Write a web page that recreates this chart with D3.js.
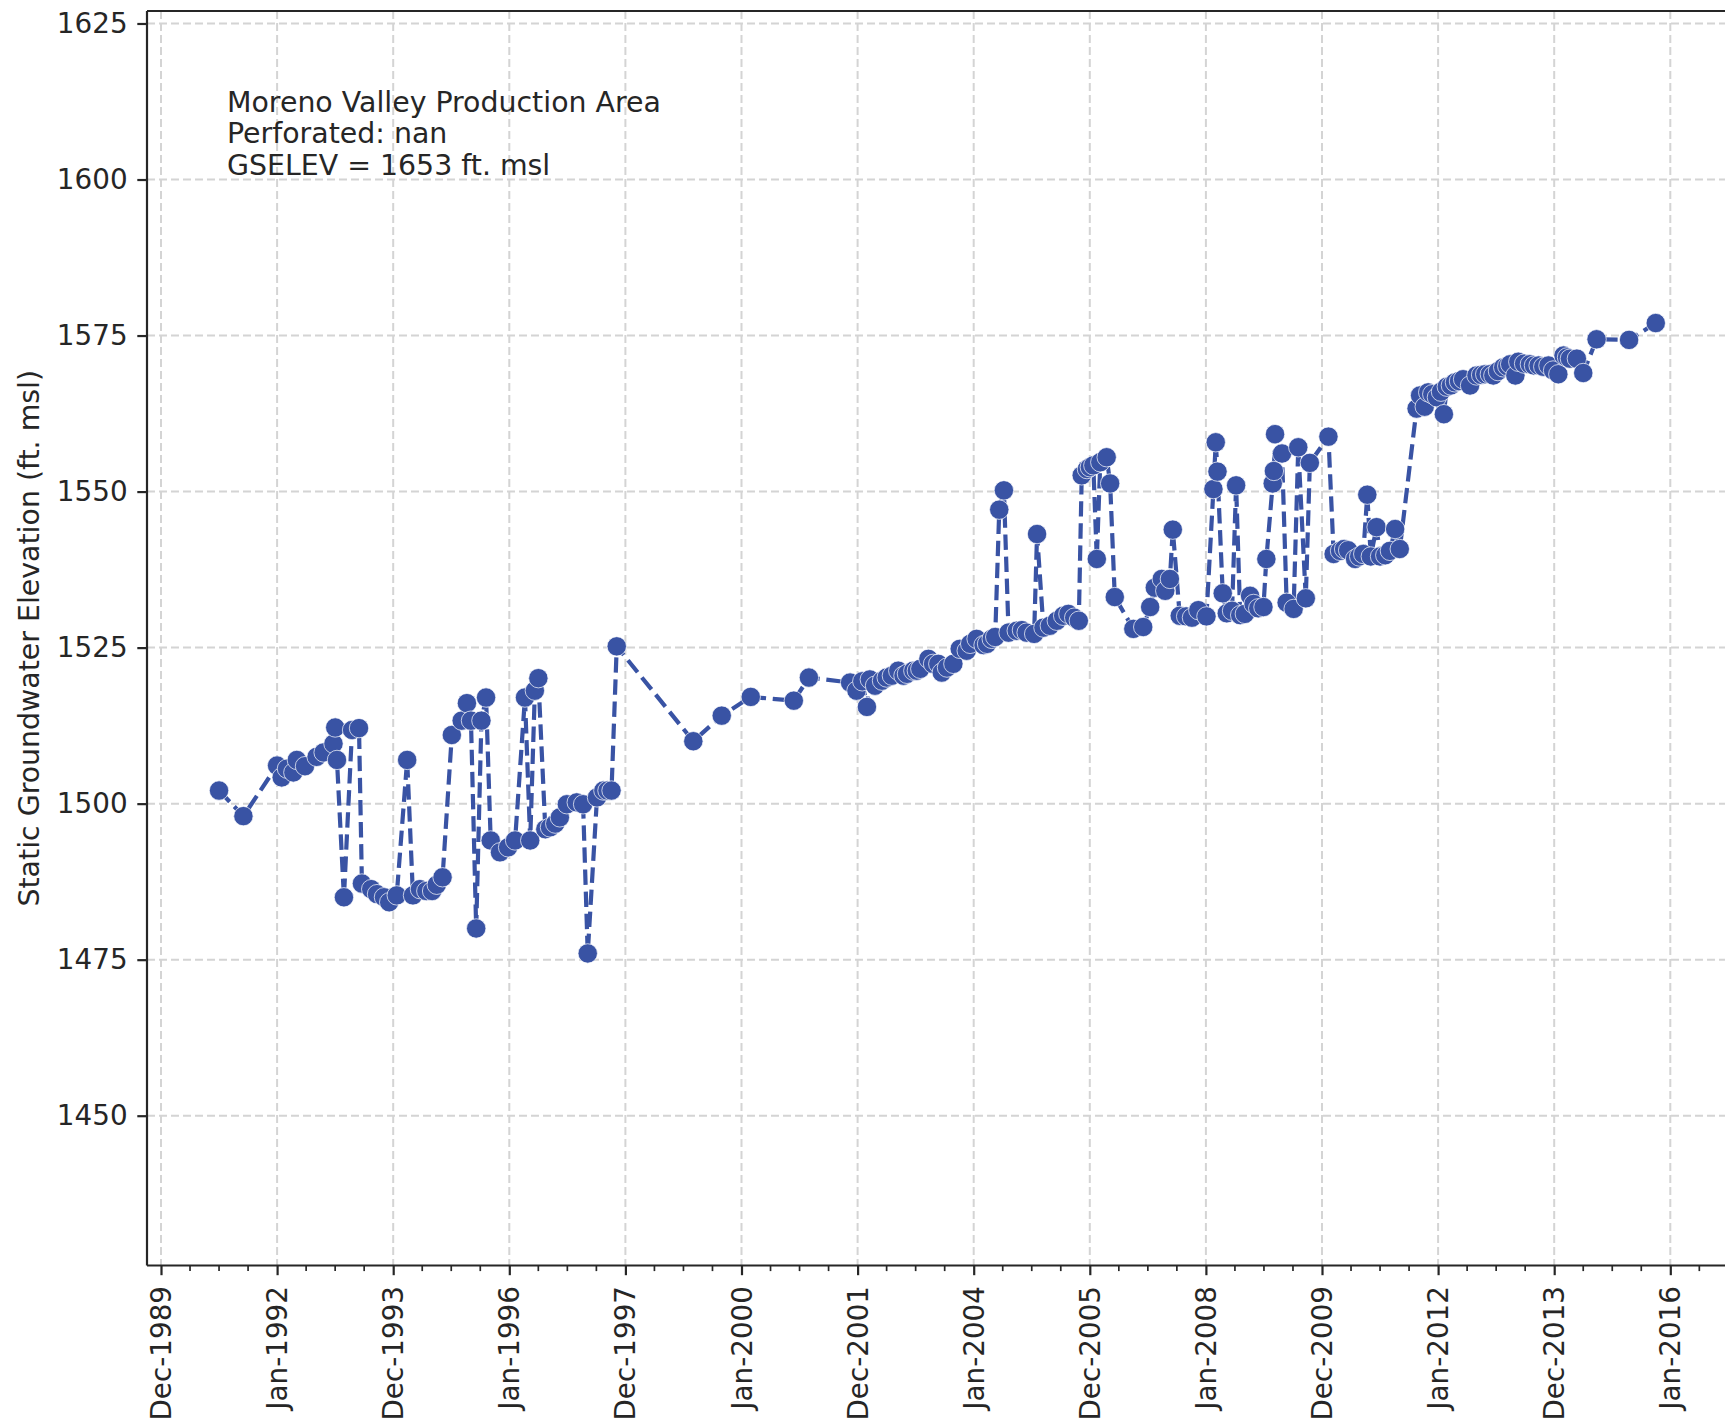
<!DOCTYPE html>
<html>
<head>
<meta charset="utf-8">
<script src="https://d3js.org/d3.v7.min.js"></script>
<style>
body { margin: 0; background: #fff; }
text { font-family: "DejaVu Sans", sans-serif; fill: #262626; }
</style>
</head>
<body>
<div id="chart"></div>
<script>
// sample dates as decimal years
const decYears = [
1991.00, 1991.42, 1992.00, 1992.08, 1992.17, 1992.28, 1992.34, 1992.48, 1992.68, 1992.80,
1992.97, 1993.00, 1993.03, 1993.15, 1993.29, 1993.41, 1993.46, 1993.62, 1993.72, 1993.84,
1993.93, 1994.06, 1994.24, 1994.34, 1994.46, 1994.57, 1994.67, 1994.75, 1994.85, 1995.01,
1995.18, 1995.27, 1995.34, 1995.43, 1995.52, 1995.60, 1995.68, 1995.84, 1995.98, 1996.10,
1996.27, 1996.36, 1996.44, 1996.50, 1996.62, 1996.70, 1996.79, 1996.87, 1996.99, 1997.16,
1997.27, 1997.35, 1997.51, 1997.62, 1997.69, 1997.76, 1997.85, 1999.17, 1999.66, 2000.16,
2000.90, 2001.16, 2001.87, 2001.98, 2002.08, 2002.16, 2002.21, 2002.30, 2002.42, 2002.50,
2002.59, 2002.70, 2002.79, 2002.85, 2002.96, 2003.02, 2003.08, 2003.22, 2003.30, 2003.39,
2003.45, 2003.54, 2003.65, 2003.76, 2003.88, 2003.94, 2004.05, 2004.17, 2004.23, 2004.31,
2004.37, 2004.44, 2004.52, 2004.60, 2004.74, 2004.83, 2004.91, 2005.04, 2005.09, 2005.20,
2005.31, 2005.43, 2005.54, 2005.63, 2005.73, 2005.81, 2005.86, 2005.95, 2006.00, 2006.06,
2006.12, 2006.18, 2006.29, 2006.35, 2006.43, 2006.75, 2006.92, 2007.04, 2007.12, 2007.24,
2007.30, 2007.38, 2007.43, 2007.55, 2007.66, 2007.76, 2007.87, 2008.01, 2008.13, 2008.17,
2008.20, 2008.29, 2008.36, 2008.45, 2008.52, 2008.59, 2008.67, 2008.76, 2008.82, 2008.90,
2008.99, 2009.04, 2009.15, 2009.17, 2009.19, 2009.31, 2009.39, 2009.51, 2009.59, 2009.72,
2009.79, 2010.11, 2010.20, 2010.31, 2010.38, 2010.45, 2010.57, 2010.64, 2010.71, 2010.78,
2010.84, 2010.94, 2011.00, 2011.09, 2011.17, 2011.26, 2011.34, 2011.63, 2011.69, 2011.77,
2011.83, 2011.90, 2011.98, 2012.05, 2012.10, 2012.15, 2012.22, 2012.29, 2012.36, 2012.43,
2012.55, 2012.66, 2012.74, 2012.81, 2012.89, 2012.95, 2013.03, 2013.12, 2013.19, 2013.24,
2013.33, 2013.38, 2013.48, 2013.58, 2013.65, 2013.73, 2013.81, 2013.90, 2013.98, 2014.07,
2014.16, 2014.22, 2014.27, 2014.39, 2014.50, 2014.73, 2015.29, 2015.75
];

// static groundwater elevation, ft. msl
const elevations = [
1502.1, 1498.0, 1506.1, 1504.2, 1505.6, 1505.0, 1507.0, 1506.0, 1507.5, 1508.2,
1509.6, 1512.2, 1507.0, 1485.0, 1511.8, 1512.1, 1487.2, 1486.3, 1485.5, 1485.0,
1484.2, 1485.3, 1507.0, 1485.3, 1486.3, 1486.0, 1486.0, 1487.0, 1488.2, 1511.0,
1513.3, 1516.1, 1513.3, 1480.0, 1513.3, 1517.0, 1494.1, 1492.2, 1493.0, 1494.1,
1517.0, 1494.1, 1518.1, 1520.1, 1495.9, 1496.2, 1496.8, 1497.8, 1499.9, 1500.2,
1499.9, 1476.0, 1501.0, 1502.1, 1502.1, 1502.1, 1525.2, 1510.0, 1514.1, 1517.1,
1516.5, 1520.2, 1519.4, 1518.1, 1519.6, 1515.5, 1519.9, 1518.9, 1519.7, 1520.2,
1520.5, 1521.3, 1520.5, 1520.8, 1521.3, 1521.3, 1521.6, 1523.2, 1522.4, 1522.4,
1521.0, 1521.8, 1522.4, 1524.8, 1524.5, 1525.6, 1526.4, 1525.4, 1525.6, 1526.4,
1526.7, 1547.1, 1550.2, 1527.4, 1527.7, 1527.8, 1527.4, 1527.2, 1543.2, 1528.2,
1528.5, 1529.3, 1530.1, 1530.4, 1529.8, 1529.3, 1552.6, 1553.6, 1553.9, 1554.2,
1539.2, 1554.7, 1555.5, 1551.3, 1533.1, 1528.0, 1528.3, 1531.5, 1534.6, 1536.0,
1534.1, 1536.0, 1543.9, 1530.1, 1530.0, 1529.8, 1531.0, 1530.0, 1550.4, 1557.9,
1553.2, 1533.7, 1530.5, 1530.9, 1551.0, 1530.2, 1530.4, 1533.3, 1532.0, 1531.3,
1531.5, 1539.2, 1551.3, 1553.3, 1559.2, 1556.1, 1532.2, 1531.2, 1557.1, 1532.9,
1554.6, 1558.8, 1540.0, 1540.5, 1540.8, 1540.6, 1539.2, 1539.6, 1540.0, 1549.5,
1539.6, 1544.3, 1539.6, 1539.8, 1540.5, 1544.0, 1540.8, 1563.3, 1565.4, 1563.6,
1565.9, 1565.6, 1565.1, 1566.0, 1562.4, 1566.8, 1567.0, 1567.5, 1567.7, 1568.0,
1567.0, 1568.6, 1568.7, 1568.8, 1568.8, 1568.6, 1569.3, 1569.9, 1570.1, 1570.4,
1568.6, 1570.8, 1570.5, 1570.4, 1570.2, 1570.2, 1570.0, 1570.2, 1569.4, 1568.8,
1571.8, 1571.5, 1571.3, 1571.3, 1569.0, 1574.4, 1574.3, 1577.0
];

const annotationLines = [
  "Moreno Valley Production Area",
  "Perforated: nan",
  "GSELEV = 1653 ft. msl"
];
const yLabel = "Static Groundwater Elevation (ft. msl)";
const yTickValues = [1450, 1475, 1500, 1525, 1550, 1575, 1600, 1625];
// x ticks: every two years (730.5 days) from the last evening of 1989
const xTickStart = Date.UTC(1989, 11, 31, 18);
const xTickStepDays = 730.5;
const xTickCount = 14;
const xMinorPerMajor = 4;

const DAY = 86400000;
const width = 1725, height = 1424;
const axLeft = 147, axTop = 11, axBottom = 1265.5, axRight = width;
const blue = "#3953a4", ink = "#262626";
const fontSize = 27.8, labelFontSize = 28.4;

function toDate(y) {
  const yr = Math.floor(y);
  const s = Date.UTC(yr, 0, 1), e = Date.UTC(yr + 1, 0, 1);
  return new Date(s + (y - yr) * (e - s));
}

const data = decYears.map((y, i) => ({ date: toDate(y), value: elevations[i] }));
const xTicks = d3.range(xTickCount).map(i => new Date(xTickStart + i * xTickStepDays * DAY));
const xMinor = d3.range((xTickCount) * xMinorPerMajor)
  .map(i => new Date(xTickStart + i * xTickStepDays / xMinorPerMajor * DAY))
  .filter((d, i) => i % xMinorPerMajor !== 0);

const x = d3.scaleUtc()
  .domain([xTicks[0], xTicks[xTickCount - 1]])
  .range([161, 161 + (xTickCount - 1) * 116.1]);

const y = d3.scaleLinear()
  .domain([d3.min(elevations) - 50, d3.max(elevations) + 50])
  .range([axBottom, axTop]);

const svg = d3.select("#chart").append("svg")
  .attr("width", width)
  .attr("height", height)
  .style("background-color", "#fff");

// grid
const grid = svg.append("g")
  .attr("stroke", "#d4d4d4")
  .attr("stroke-width", 2)
  .attr("stroke-dasharray", "8,4");
grid.selectAll("line.gx")
  .data(xTicks.filter(d => x(d) <= axRight))
  .join("line")
  .attr("class", "gx")
  .attr("x1", d => x(d)).attr("x2", d => x(d))
  .attr("y1", axTop).attr("y2", axBottom);
grid.selectAll("line.gy")
  .data(yTickValues)
  .join("line")
  .attr("class", "gy")
  .attr("x1", axLeft).attr("x2", axRight)
  .attr("y1", d => y(d)).attr("y2", d => y(d));

// data line
const line = d3.line()
  .x(d => x(d.date))
  .y(d => y(d.value));

svg.append("path")
  .datum(data)
  .attr("fill", "none")
  .attr("stroke", blue)
  .attr("stroke-width", 4.2)
  .attr("stroke-dasharray", "15.4,6.7")
  .attr("d", line);

svg.append("g")
  .selectAll("circle")
  .data(data)
  .join("circle")
  .attr("cx", d => x(d.date))
  .attr("cy", d => y(d.value))
  .attr("r", 9.7)
  .attr("fill", blue)
  .attr("stroke", "#fff")
  .attr("stroke-width", 0.7);

// y axis
const yAxis = d3.axisLeft(y)
  .tickValues(yTickValues)
  .tickFormat(d3.format("d"))
  .tickSize(9.7)
  .tickPadding(9.7);
const gy = svg.append("g")
  .attr("transform", `translate(${axLeft},0)`)
  .call(yAxis);
gy.select(".domain").remove();
gy.selectAll(".tick line").attr("stroke", ink).attr("stroke-width", 2.2);
gy.selectAll(".tick text")
  .attr("font-size", fontSize)
  .style("font-family", "DejaVu Sans")
  .attr("fill", ink);

// x axis
const xAxis = d3.axisBottom(x)
  .tickValues(xTicks)
  .tickFormat(d3.utcFormat("%b-%Y"))
  .tickSize(9.7)
  .tickPadding(9.7);
const gx = svg.append("g")
  .attr("transform", `translate(0,${axBottom})`)
  .call(xAxis);
gx.select(".domain").remove();
gx.selectAll(".tick line").attr("stroke", ink).attr("stroke-width", 2.2);
gx.selectAll(".tick text")
  .attr("font-size", fontSize)
  .style("font-family", "DejaVu Sans")
  .attr("fill", ink)
  .attr("text-anchor", "end")
  .attr("dy", null)
  .attr("y", 0)
  .attr("x", 0)
  .attr("dominant-baseline", "central")
  .attr("transform", "translate(0,20.5) rotate(-90)");

svg.append("g")
  .selectAll("line")
  .data(xMinor.filter(d => x(d) <= axRight))
  .join("line")
  .attr("x1", d => x(d)).attr("x2", d => x(d))
  .attr("y1", axBottom).attr("y2", axBottom + 5.6)
  .attr("stroke", ink)
  .attr("stroke-width", 1.7);

// spines
const spines = svg.append("g").attr("stroke", ink).attr("stroke-width", 2.2).attr("fill", "none");
spines.append("line").attr("x1", axLeft).attr("x2", axLeft).attr("y1", axTop).attr("y2", axBottom);
spines.append("line").attr("x1", axLeft).attr("x2", axRight).attr("y1", axBottom).attr("y2", axBottom);
spines.append("line").attr("x1", axLeft).attr("x2", axRight).attr("y1", axTop).attr("y2", axTop);

// y label
svg.append("text")
  .attr("transform", `translate(29,${(axTop + axBottom) / 2}) rotate(-90)`)
  .attr("text-anchor", "middle")
  .attr("dominant-baseline", "central")
  .attr("font-size", labelFontSize)
  .text(yLabel);

// annotation
svg.append("text")
  .attr("font-size", labelFontSize)
  .selectAll("tspan")
  .data(annotationLines)
  .join("tspan")
  .attr("x", 227)
  .attr("y", (d, i) => 111.5 + i * 31.8)
  .text(d => d);
</script>
</body>
</html>
